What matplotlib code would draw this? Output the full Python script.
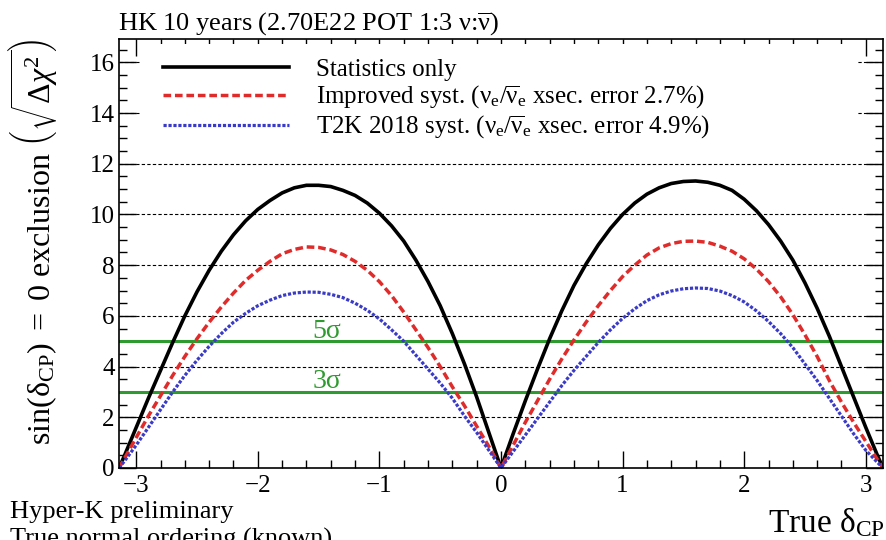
import numpy as np
import matplotlib
matplotlib.use("Agg")
import matplotlib.pyplot as plt
from matplotlib.patches import Rectangle
from matplotlib.ticker import MultipleLocator, FuncFormatter

plt.rcParams['font.family'] = ['Liberation Serif', 'DejaVu Serif']
plt.rcParams['mathtext.fontset'] = 'custom'
plt.rcParams['mathtext.rm'] = 'Liberation Serif'
plt.rcParams['mathtext.it'] = 'Liberation Serif:italic'
plt.rcParams['mathtext.bf'] = 'Liberation Serif:bold'

# true delta_CP sample points (rad): -pi, -3.1 ... 3.1 in 0.1 steps, +pi
delta_cp = [-np.pi] + [round(-3.1 + 0.1 * i, 1) for i in range(63)] + [np.pi]

# sqrt(delta chi2) for excluding sin(delta_CP) = 0
stat_only = [0.0, 0.45, 1.6, 2.75, 3.85, 4.95, 6.0, 6.95, 7.8, 8.55, 9.2, 9.75,
             10.2, 10.55, 10.85, 11.05, 11.15, 11.15, 11.1, 10.95, 10.75, 10.45,
             10.05, 9.55, 8.95, 8.2, 7.35, 6.4, 5.3, 4.1, 2.8, 1.4, 0.0,
             1.35, 2.65, 3.9, 5.1, 6.2, 7.2, 8.05, 8.8, 9.45, 10.0, 10.45, 10.8,
             11.05, 11.22, 11.3, 11.32, 11.27, 11.15, 10.95, 10.6, 10.15, 9.6,
             8.95, 8.2, 7.3, 6.3, 5.2, 4.0, 2.8, 1.6, 0.45, 0.0]
improved_syst = [0.0, 0.35, 1.2, 2.05, 2.85, 3.65, 4.4, 5.1, 5.75, 6.35, 6.9, 7.4,
                 7.8, 8.15, 8.45, 8.62, 8.72, 8.7, 8.6, 8.42, 8.15, 7.8, 7.35,
                 6.8, 6.15, 5.45, 4.75, 4.0, 3.2, 2.45, 1.65, 0.85, 0.0,
                 0.9, 1.8, 2.65, 3.5, 4.3, 5.05, 5.75, 6.4, 7.0, 7.55, 8.0, 8.4,
                 8.68, 8.85, 8.94, 8.95, 8.9, 8.75, 8.55, 8.25, 7.85, 7.35, 6.75,
                 6.05, 5.25, 4.4, 3.45, 2.6, 1.8, 1.05, 0.3, 0.0]
t2k2018_syst = [0.0, 0.25, 0.9, 1.6, 2.3, 3.0, 3.65, 4.25, 4.8, 5.3, 5.75, 6.1,
                6.4, 6.62, 6.8, 6.9, 6.94, 6.93, 6.85, 6.72, 6.5, 6.22, 5.88,
                5.45, 5.0, 4.45, 3.9, 3.35, 2.75, 2.05, 1.4, 0.7, 0.0,
                0.65, 1.3, 1.95, 2.6, 3.25, 3.85, 4.4, 4.95, 5.45, 5.9, 6.28, 6.6,
                6.83, 6.98, 7.07, 7.1, 7.08, 6.98, 6.8, 6.55, 6.2, 5.78, 5.3,
                4.75, 4.1, 3.45, 2.75, 2.05, 1.35, 0.7, 0.2, 0.0]

sigma_levels = [5, 3]
sigma_labels = ['5σ', '3σ']

labels = ['Statistics only',
          r'Improved syst. ($\mathrm{\nu_e/\overline{\nu}_e}$ xsec. error 2.7%)',
          r'T2K 2018 syst. ($\mathrm{\nu_e/\overline{\nu}_e}$ xsec. error 4.9%)']

W, H = 886, 540
AX_L, AX_R, AX_T, AX_B = 119, 883, 39, 468
fig = plt.figure(figsize=(W / 100, H / 100), dpi=100)
ax = fig.add_axes([AX_L / W, 1 - AX_B / H, (AX_R - AX_L) / W, (AX_B - AX_T) / H])

def ax_x(px):
    return (px - AX_L) / (AX_R - AX_L)

def ax_y(py):
    return (AX_B - py) / (AX_B - AX_T)

ax.set_xlim(-np.pi, np.pi)
ax.set_ylim(0, 16.92)

# dashed horizontal grid on the major y ticks
for yg in range(2, 17, 2):
    ax.axhline(yg, color='black', lw=0.8, ls=(0, (3, 2)), zorder=1)

# white legend pad hides the grid behind the entries
ax.add_patch(Rectangle((ax_x(140), ax_y(148)), ax_x(857) - ax_x(140), ax_y(44) - ax_y(148),
                       transform=ax.transAxes, facecolor='white', edgecolor='none', zorder=2))

green = '#2f9a2f'
for lvl, txt in zip(sigma_levels, sigma_labels):
    ax.axhline(lvl, color=green, lw=2.2, zorder=3)
    ax.text(-1.43, lvl + 0.14, txt, color=green, fontsize=20, ha='center', va='baseline')

l1, = ax.plot(delta_cp, stat_only, color='black', lw=2.6, zorder=4)
l2, = ax.plot(delta_cp, improved_syst, color='#e02b2b', lw=2.5,
              ls=(0, (2.2, 1.1)), dash_capstyle='butt', zorder=5)
l3, = ax.plot(delta_cp, t2k2018_syst, color='#3a3ac8', lw=2.3,
              ls=(0, (1.0, 0.55)), dash_capstyle='butt', zorder=6)

leg = ax.legend([l1, l2, l3], labels, loc='upper left',
                bbox_to_anchor=(ax_x(163), ax_y(58)),
                frameon=False, fontsize=18, handlelength=5.05, handletextpad=1.05,
                labelspacing=0.13, borderpad=0, borderaxespad=0)
leg.set_zorder(7)

ax.xaxis.set_major_locator(MultipleLocator(1))
ax.xaxis.set_minor_locator(MultipleLocator(0.2))
ax.yaxis.set_major_locator(MultipleLocator(2))
ax.yaxis.set_minor_locator(MultipleLocator(0.5))
ax.tick_params(which='both', direction='in', top=True, right=True, width=1.0,
               labelsize=18)
ax.tick_params(which='major', length=12)
ax.tick_params(which='minor', length=6)
ax.tick_params(axis='y', pad=3)
ax.tick_params(axis='x', pad=5)
ax.xaxis.set_major_formatter(FuncFormatter(lambda v, p: f'{v:.0f}'.replace('-', '\u2212')))
ax.yaxis.set_major_formatter(FuncFormatter(lambda v, p: f'{v:.0f}'))
for s in ax.spines.values():
    s.set_linewidth(1.2)
    s.set_zorder(8)

fig.text(118 / W, 1 - 31 / H, 'HK 10 years (2.70E22 POT 1:3 ν:$\\mathrm{\\overline{\\nu}}$)',
         fontsize=19, ha='left', va='baseline')
fig.text(33 / W, 1 - 242 / H,
         r'$\mathrm{sin(\delta_{CP})\ =\ 0\ exclusion\ }\left(\sqrt{\Delta\chi^{2}}\right)$',
         fontsize=23, rotation=90, ha='center', va='center')
fig.text(885 / W, 1 - 532 / H, r'True $\mathrm{\delta_{CP}}$', fontsize=24,
         ha='right', va='baseline')
fig.text(10 / W, 1 - 518 / H, 'Hyper-K preliminary', fontsize=19, ha='left', va='baseline')
fig.text(10 / W, 1 - 546 / H, 'True normal ordering (known)', fontsize=19,
         ha='left', va='baseline')

fig.savefig('out.png', dpi=100)
